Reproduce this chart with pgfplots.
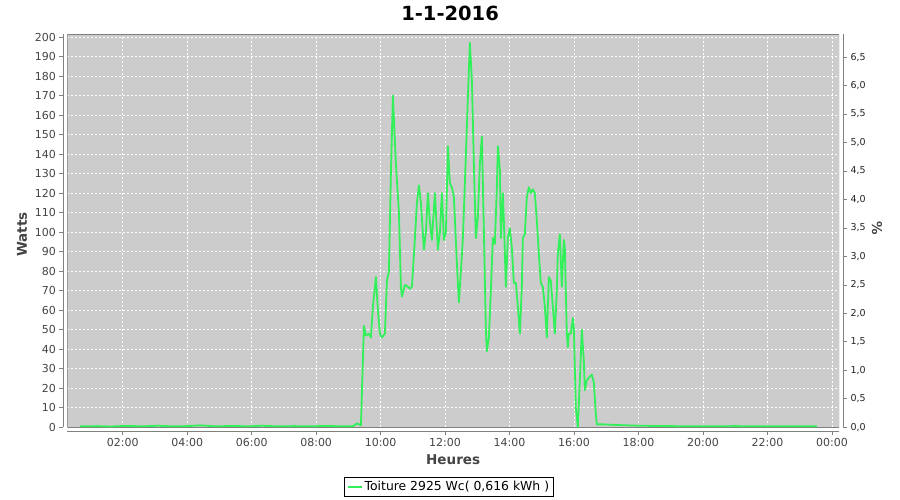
\documentclass[border=0pt]{standalone}
\usepackage{fontspec}
\setmainfont{DejaVu Sans}
\usepackage{pgfplots}
\pgfplotsset{compat=1.18}
\definecolor{plotbg}{RGB}{204,204,204}
\definecolor{linegreen}{RGB}{50,240,90}
\definecolor{axisgray}{RGB}{128,128,128}
\definecolor{ticklab}{RGB}{68,68,68}
\definecolor{ticklabr}{RGB}{34,34,34}
\begin{document}
\begin{tikzpicture}
\useasboundingbox (-67.3pt,-72.7pt) rectangle (832.7pt,427.3pt);
\begin{axis}[
  at={(0pt,0pt)}, anchor=south west,
  scale only axis, width=771.7pt, height=393pt,
  xmin=0.28, xmax=24.22, ymin=0, ymax=201.4,
  axis x line*=bottom, axis y line*=left,
  axis x line shift=4pt, axis y line shift=4pt,
  axis line style={axisgray, line width=1pt, -},
  every outer x axis line/.append style={-},
  every outer y axis line/.append style={-},
  every inner x axis line/.append style={-},
  every inner y axis line/.append style={-},
  axis background/.style={fill=plotbg},
  xtick={2,4,...,24},
  xticklabels={02:00,04:00,06:00,08:00,10:00,12:00,14:00,16:00,18:00,20:00,22:00,00:00},
  ytick={0,10,...,200},
  /pgf/number format/assume math mode=true,
  tick align=outside, major tick length=4pt,
  tick style={axisgray, line width=0.8pt},
  ticklabel style={font=\fontsize{11}{13}\selectfont, text=ticklab},
  grid=major, grid style={white, line width=0.6pt, dash pattern=on 2pt off 2pt},
  title={1-1-2016},
  every axis title shift=0pt,
  title style={at={(0.496,1.0535)}, anchor=center, yshift=0pt, font=\fontsize{19.5}{22}\selectfont\bfseries},
  xlabel={Heures},
  xlabel style={at={(0.5,-0.0832)}, anchor=center, font=\fontsize{13.5}{16}\selectfont\bfseries, text=ticklab},
  ylabel={Watts},
  ylabel style={at={(-0.0587,0.49)}, anchor=center, font=\fontsize{13.5}{16}\selectfont\bfseries, text=ticklab},
  legend style={at={(0.4946,-0.152)}, anchor=center, draw=black, line width=0.8pt,
    font=\fontsize{12.4}{14}\selectfont, inner sep=2.2pt, fill=white},
  legend cell align=left,
  legend image code/.code={\draw[linegreen, line width=1.8pt] (0pt,0pt) -- (14pt,0pt);},
]
\draw[axisgray, line width=0.8pt] (rel axis cs:0,0) rectangle (rel axis cs:1,1);
\addplot[linegreen, line width=1.8pt, line join=round] coordinates {
(0.68,0.5) (1.2,0.6) (1.6,0.4) (2.1,0.7) (2.6,0.5) (3.1,0.8) (3.5,0.5) (4.0,0.6)
(4.4,1.0) (4.9,0.5) (5.4,0.7) (5.9,0.5) (6.3,0.8) (6.8,0.5) (7.3,0.6) (7.8,0.5)
(8.3,0.7) (8.8,0.5) (9.15,0.6) (9.265,2) (9.33,1.5) (9.389,1)
(9.482,52) (9.544,47) (9.637,48) (9.699,46) (9.761,62) (9.854,77) (9.916,60)
(9.978,48) (10.04,46) (10.133,48) (10.195,75) (10.257,80) (10.319,130) (10.381,170)
(10.474,135) (10.568,110) (10.629,72) (10.66,67) (10.754,73) (10.847,72) (10.909,71)
(10.971,72) (11.064,97) (11.126,115) (11.188,124) (11.25,115) (11.343,91) (11.405,100)
(11.467,120) (11.529,105) (11.591,96) (11.684,120) (11.777,91) (11.839,100) (11.901,120)
(11.963,96) (12.025,100) (12.087,144) (12.149,125) (12.211,123) (12.273,118) (12.366,84)
(12.428,64) (12.49,80) (12.552,97) (12.614,125) (12.707,169) (12.769,197) (12.831,178)
(12.893,135) (12.955,97) (13.017,108) (13.079,135) (13.141,149) (13.203,101) (13.265,50)
(13.296,39) (13.358,46) (13.42,70) (13.482,97) (13.544,94) (13.606,123) (13.637,144)
(13.699,132) (13.73,97) (13.792,120) (13.823,106) (13.885,72) (13.947,97) (14.009,102)
(14.071,92) (14.133,74) (14.195,74) (14.257,62) (14.319,48) (14.381,72) (14.412,97)
(14.474,99) (14.536,118) (14.598,123) (14.66,120) (14.722,122) (14.784,120) (14.846,106)
(14.908,89) (14.97,74) (15.032,72) (15.094,62) (15.156,46) (15.218,77) (15.28,75)
(15.342,62) (15.404,48) (15.466,70) (15.497,89) (15.559,99) (15.621,72) (15.683,96)
(15.714,92) (15.776,48) (15.807,41) (15.838,48) (15.9,48) (15.963,56) (15.994,51)
(16.056,10) (16.118,0) (16.18,24) (16.242,50) (16.304,34) (16.335,19) (16.397,24)
(16.49,26) (16.552,27) (16.614,23) (16.676,7) (16.707,1.5) (16.9,1.5) (17.3,1.2)
(18,0.8) (19,0.6) (20,0.5) (21,0.6) (22,0.5) (23,0.5) (23.53,0.5)
};
\addlegendentry{Toiture 2925 Wc( 0,616 kWh )}
\end{axis}
\begin{axis}[
  at={(0pt,0pt)}, anchor=south west,
  scale only axis, width=771.7pt, height=393pt,
  xmin=0.28, xmax=24.22, ymin=0, ymax=6.9,
  axis y line*=right, axis x line=none,
  axis y line shift=4pt,
  axis line style={axisgray, line width=1pt, -},
  every outer y axis line/.append style={-},
  every inner y axis line/.append style={-},
  ytick={0,0.5,1,1.5,2,2.5,3,3.5,4,4.5,5,5.5,6,6.5},
  yticklabels={{0,0},{0,5},{1,0},{1,5},{2,0},{2,5},{3,0},{3,5},{4,0},{4,5},{5,0},{5,5},{6,0},{6,5}},
  tick align=outside, major tick length=4pt,
  tick style={axisgray, line width=0.8pt},
  yticklabel style={font=\fontsize{9.5}{11}\selectfont, text=ticklabr},
  ylabel={\%},
  ylabel style={at={(1.0492,0.507)}, anchor=center, rotate=180, font=\fontsize{13.5}{16}\selectfont\bfseries, text=ticklab},
]
\end{axis}
\end{tikzpicture}
\end{document}
